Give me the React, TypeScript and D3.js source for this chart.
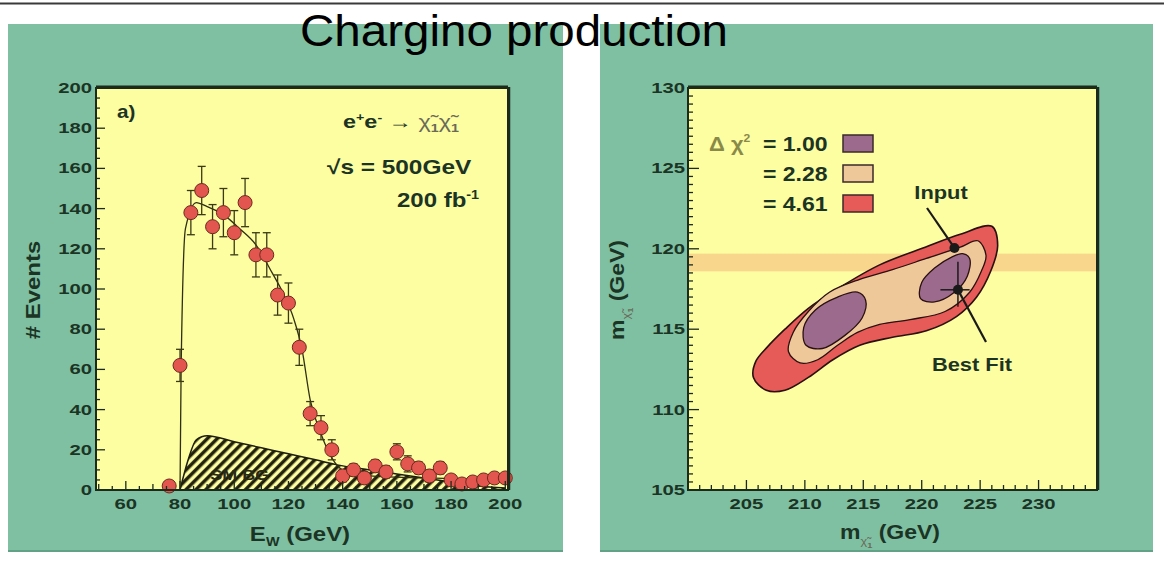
import React from "react";
import * as d3 from "d3";

// ---- panel a) : E_W spectrum ----
const energy = [76, 80, 84, 88, 92, 96, 100, 104, 108, 112, 116, 120, 124, 128, 132, 136, 140, 144, 148, 152, 156, 160, 164, 168, 172, 176, 180, 184, 188, 192, 196, 200];
const events = [2, 62, 138, 149, 131, 138, 128, 143, 117, 117, 97, 93, 71, 38, 31, 20, 7, 10, 6, 12, 9, 19, 13, 11, 7, 11, 5, 3, 4, 5, 6, 6];
const eventErr = [2, 8, 11, 12, 11, 12, 11, 12, 11, 11, 10, 10, 9, 6, 6, 5, 3, 3, 3, 3, 3, 4, 4, 3, 3, 3, 2, 2, 2, 2, 2, 2];

const curveE = [80, 80.4, 82, 86, 90, 96, 102, 108, 114, 118, 122, 125, 128, 132, 136, 140, 150, 170, 200];
const curveN = [0, 60, 130, 143, 141, 137, 130, 122, 108, 98, 85, 70, 45, 28, 16, 10, 7, 6, 5];

const bgE = [80, 83, 86, 90, 100, 110, 120, 130, 138, 150, 160, 170, 180, 190, 200];
const bgN = [0, 15, 25, 27, 24, 21, 18, 15, 12.5, 10, 8, 6, 4, 2, 1];

const leftXTicks = [60, 80, 100, 120, 140, 160, 180, 200];
const leftYTicks = [0, 20, 40, 60, 80, 100, 120, 140, 160, 180, 200];

// ---- panel b) : mass contours ----
const rightXTicks = [205, 210, 215, 220, 225, 230];
const rightYTicks = [105, 110, 115, 120, 125, 130];

const outerM1 = [226.0, 226.5, 225.9, 224.7, 223.0, 220.4, 217.5, 214.7, 212.4, 210.3, 208.3, 206.7, 205.6, 205.8, 206.8, 208.3, 210.3, 213.0, 216.4, 220.3, 223.3];
const outerM0 = [121.4, 120.2, 118.6, 117.0, 115.8, 114.9, 114.5, 114.0, 113.1, 112.0, 111.2, 111.2, 112.0, 113.0, 113.9, 115.0, 116.3, 117.6, 119.0, 120.1, 120.9];

const midM1 = [224.8, 225.5, 225.1, 224.1, 222.0, 219.0, 216.4, 214.5, 212.8, 211.1, 209.6, 208.6, 209.0, 210.3, 212.1, 214.7, 217.5, 220.4, 223.3];
const midM0 = [120.5, 119.6, 118.6, 117.3, 116.1, 115.6, 115.3, 114.8, 114.0, 113.1, 112.9, 113.6, 114.8, 116.1, 117.3, 118.1, 118.7, 119.4, 120.1];

const innerAM1 = [215.2, 214.9, 213.4, 211.5, 210.1, 209.9, 210.9, 212.8, 214.5];
const innerAM0 = [116.8, 115.7, 114.6, 113.8, 114.0, 115.1, 116.2, 117.0, 117.3];
const innerBM1 = [224.1, 223.9, 222.8, 221.1, 219.9, 220.0, 221.1, 222.6, 223.5];
const innerBM0 = [119.4, 118.3, 117.3, 116.7, 116.9, 117.9, 118.8, 119.5, 119.7];

const bandM0 = [118.6, 119.7];
const inputPt = [222.8, 120.05];
const bestPt = [223.1, 117.45];
const bestErrM1 = [221.6, 224.1];
const bestErrM0 = [116.4, 119.2];

const deltaChi = ["1.00", "2.28", "4.61"];
const levelColors = ["#9c6a8c", "#efc89a", "#e65a57"];

const GREEN = "#7fc0a3";
const YELLOW = "#fdfda2";
const INK = "#1b3424";
const FONT = "'Liberation Sans', Arial, sans-serif";

const T = ({ x, y, size = 15, sx = 1, anchor = "start", rot = 0, fill = INK, weight = "bold", children }: any) => (
  <text
    transform={`translate(${x},${y}) rotate(${rot}) scale(${sx},1)`}
    textAnchor={anchor}
    fontSize={size}
    fontWeight={weight}
    fill={fill}
    fontFamily={FONT}
  >
    {children}
  </text>
);

export default function App() {
  // scales
  const xL = d3.scaleLinear().domain([49, 201]).range([96, 508]);
  const yL = d3.scaleLinear().domain([0, 200]).range([490, 88]);
  const xR = d3.scaleLinear().domain([200, 235]).range([688, 1097]);
  const yR = d3.scaleLinear().domain([105, 130]).range([490, 88]);

  const curve = d3
    .line<number>()
    .x((d, i) => xL(curveE[i]))
    .y((d) => yL(d))
    .curve(d3.curveMonotoneX)(curveN);

  const bgArea = d3
    .area<number>()
    .x((d, i) => xL(bgE[i]))
    .y0(yL(0))
    .y1((d) => yL(d))
    .curve(d3.curveMonotoneX)(bgN);
  const bgTop = d3
    .line<number>()
    .x((d, i) => xL(bgE[i]))
    .y((d) => yL(d))
    .curve(d3.curveMonotoneX)(bgN);

  const blob = (mx: number[], my: number[]) =>
    d3
      .line<number>()
      .x((d) => xR(d))
      .y((d, i) => yR(my[i]))
      .curve(d3.curveCatmullRomClosed.alpha(0.5))(mx) as string;

  const minorLX = d3.range(50, 201, 5);
  const minorLY = d3.range(0, 201, 5);
  const minorRX = d3.range(201, 235, 1);
  const minorRY = d3.range(105, 130.01, 0.5);

  return (
    <div style={{ position: "absolute", left: 0, top: 0 }}>
      <svg width={1164} height={583} style={{ display: "block" }}>
        <defs>
          <pattern id="hatch" patternUnits="userSpaceOnUse" width="7" height="7" patternTransform="rotate(45)">
            <rect width="7" height="7" fill={YELLOW} />
            <line x1="1.8" y1="0" x2="1.8" y2="7" stroke="#1e1e0c" strokeWidth="3.4" />
          </pattern>
        </defs>
        <rect width={1164} height={583} fill="#ffffff" />
        <line x1={0} x2={1164} y1={3.5} y2={3.5} stroke="#3a3a3a" strokeWidth={2} />

        {/* panels */}
        <rect x={8} y={24} width={555} height={528} fill={GREEN} />
        <rect x={600} y={24} width={553} height={528} fill={GREEN} />
        <line x1={8} x2={563} y1={551} y2={551} stroke="#62a287" strokeWidth={2} />
        <line x1={600} x2={1153} y1={551} y2={551} stroke="#62a287" strokeWidth={2} />

        {/* ---------- left plot ---------- */}
        <rect x={96} y={88} width={412} height={402} fill={YELLOW} />
        <path d={bgArea as string} fill="url(#hatch)" />
        <path d={bgTop as string} fill="none" stroke="#1e1e0c" strokeWidth={1.5} />
        <T x={xL(102)} y={yL(5)} size={15} sx={1.2} anchor="middle" fill="#2a2a12" >SM BG</T>
        <path d={curve as string} fill="none" stroke="#2f2f10" strokeWidth={1.3} />
        {energy.map((e, i) => (
          <g key={"eb" + i} stroke="#3a3a14" strokeWidth={1.3}>
            <line x1={xL(e)} x2={xL(e)} y1={yL(events[i] + eventErr[i])} y2={yL(Math.max(0, events[i] - eventErr[i]))} />
            <line x1={xL(e) - 4} x2={xL(e) + 4} y1={yL(events[i] + eventErr[i])} y2={yL(events[i] + eventErr[i])} />
            <line x1={xL(e) - 4} x2={xL(e) + 4} y1={yL(Math.max(0, events[i] - eventErr[i]))} y2={yL(Math.max(0, events[i] - eventErr[i]))} />
          </g>
        ))}
        {energy.map((e, i) => (
          <circle key={"pt" + i} cx={xL(e)} cy={yL(events[i])} r={7} fill="#e3564f" stroke="#6b2a1e" strokeWidth={1} />
        ))}
        {/* frame + ticks */}
        <g stroke="#1b2a1b">
          {minorLY.map((v) => (
            <line key={"mly" + v} x1={96} x2={leftYTicks.includes(v) ? 105 : 100} y1={yL(v)} y2={yL(v)} strokeWidth={1.3} />
          ))}
          {minorLX.map((v) => (
            <line key={"mlx" + v} y1={490} y2={leftXTicks.includes(v) ? 481 : v % 10 === 0 ? 484 : 486} x1={xL(v)} x2={xL(v)} strokeWidth={1.3} />
          ))}
          <rect x={96} y={88} width={412} height={402} fill="none" strokeWidth={2} />
          <line x1={96} x2={508} y1={87} y2={87} strokeWidth={3} />
          <line x1={509} x2={509} y1={87} y2={490} strokeWidth={2.5} />
        </g>
        {leftYTicks.map((v) => (
          <T key={"lyt" + v} x={92} y={yL(v) + 5} size={14} sx={1.45} anchor="end">{v}</T>
        ))}
        {leftXTicks.map((v) => (
          <T key={"lxt" + v} x={xL(v)} y={509} size={14} sx={1.45} anchor="middle">{v}</T>
        ))}
        <T x={40} y={290} size={20} sx={1.2} anchor="middle" rot={-90}># Events</T>
        <T x={300} y={541} size={20} sx={1.2} anchor="middle">
          E<tspan fontSize={12} dy={5}>W</tspan><tspan dy={-5}> (GeV)</tspan>
        </T>
        <T x={117} y={118} size={18} sx={1.15}>a)</T>
        <T x={343} y={128} size={18} sx={1.3}>
          e<tspan fontSize={11} dy={-7}>+</tspan><tspan dy={7}>e</tspan><tspan fontSize={11} dy={-7}>-</tspan>
          <tspan dy={7}> → </tspan>
          <tspan fill="#6a6a58" fontWeight="normal">χ̃</tspan><tspan fill="#6a6a58" fontSize={11} dy={4}>1</tspan>
          <tspan fill="#6a6a58" fontWeight="normal" dy={-4}>χ̃</tspan><tspan fill="#6a6a58" fontSize={11} dy={4}>1</tspan>
        </T>
        <T x={327} y={174} size={20} sx={1.22}>√s = 500GeV</T>
        <T x={397} y={207} size={20} sx={1.2}>
          200 fb<tspan fontSize={12} dy={-8}>-1</tspan>
        </T>

        {/* ---------- right plot ---------- */}
        <rect x={688} y={88} width={409} height={402} fill={YELLOW} />
        <rect x={688} y={yR(bandM0[1])} width={409} height={yR(bandM0[0]) - yR(bandM0[1])} fill="#f8d68c" />
        <path d={blob(outerM1, outerM0)} fill={levelColors[2]} stroke="#2a1010" strokeWidth={1.6} />
        <path d={blob(midM1, midM0)} fill={levelColors[1]} stroke="#2a1010" strokeWidth={1.3} />
        <path d={blob(innerAM1, innerAM0)} fill={levelColors[0]} stroke="#2a1010" strokeWidth={1.3} />
        <path d={blob(innerBM1, innerBM0)} fill={levelColors[0]} stroke="#2a1010" strokeWidth={1.3} />
        <g stroke="#1a1a1a">
          <line x1={xR(bestErrM1[0])} x2={xR(bestErrM1[1])} y1={yR(bestPt[1])} y2={yR(bestPt[1])} strokeWidth={1.5} />
          <line x1={xR(bestPt[0])} x2={xR(bestPt[0])} y1={yR(bestErrM0[0])} y2={yR(bestErrM0[1])} strokeWidth={1.5} />
          <line x1={927} y1={208} x2={xR(inputPt[0])} y2={yR(inputPt[1])} strokeWidth={2.2} />
          <line x1={xR(bestPt[0])} y1={yR(bestPt[1])} x2={986} y2={342} strokeWidth={2.2} />
        </g>
        <circle cx={xR(inputPt[0])} cy={yR(inputPt[1])} r={5} fill="#1a1a1a" />
        <circle cx={xR(bestPt[0])} cy={yR(bestPt[1])} r={5} fill="#1a1a1a" />
        <T x={941} y={199} size={19} sx={1.15} anchor="middle">Input</T>
        <T x={972} y={371} size={19} sx={1.15} anchor="middle">Best Fit</T>

        {/* legend */}
        <T x={709} y={151} size={20} sx={1.1} fill="#8a8a48">
          Δ χ<tspan fontSize={11} dy={-9}>2</tspan>
        </T>
        {deltaChi.map((v, i) => (
          <g key={"lg" + i}>
            <T x={763} y={151 + i * 30} size={20} sx={1.15}>= {v}</T>
            <rect x={843} y={135 + i * 30} width={30} height={17} fill={levelColors[i]} stroke="#3a2a2a" strokeWidth={1.5} />
          </g>
        ))}

        <g stroke="#1b2a1b">
          {minorRY.map((v) => (
            <line key={"mry" + v} x1={688} x2={rightYTicks.includes(v) ? 699 : 693} y1={yR(v)} y2={yR(v)} strokeWidth={1.3} />
          ))}
          {minorRX.map((v) => (
            <line key={"mrx" + v} y1={490} y2={rightXTicks.includes(v) ? 480 : 485} x1={xR(v)} x2={xR(v)} strokeWidth={1.3} />
          ))}
          <rect x={688} y={88} width={409} height={402} fill="none" strokeWidth={2} />
          <line x1={688} x2={1097} y1={87} y2={87} strokeWidth={3} />
          <line x1={1098} x2={1098} y1={87} y2={490} strokeWidth={2.5} />
        </g>
        {rightYTicks.map((v) => (
          <T key={"ryt" + v} x={685} y={yR(v) + 5} size={14} sx={1.45} anchor="end">{v}</T>
        ))}
        {rightXTicks.map((v) => (
          <T key={"rxt" + v} x={xR(v)} y={509} size={14} sx={1.45} anchor="middle">{v}</T>
        ))}
        <T x={624} y={290} size={20} sx={1.15} anchor="middle" rot={-90}>
          m<tspan fontSize={11} dy={6} fill="#6a6a58" fontWeight="normal">χ̃</tspan><tspan fontSize={8} dy={3} fill="#6a6a58">1</tspan><tspan dy={-9}> (GeV)</tspan>
        </T>
        <T x={890} y={539} size={20} sx={1.15} anchor="middle">
          m<tspan fontSize={11} dy={6} fill="#6a6a58" fontWeight="normal">χ̃</tspan><tspan fontSize={8} dy={3} fill="#6a6a58">1</tspan><tspan dy={-9}> (GeV)</tspan>
        </T>

        {/* title */}
        <text x={300} y={46} fontSize={45} fontFamily={FONT} fill="#000" textLength={428} lengthAdjust="spacingAndGlyphs">
          Chargino production
        </text>
      </svg>
    </div>
  );
}
